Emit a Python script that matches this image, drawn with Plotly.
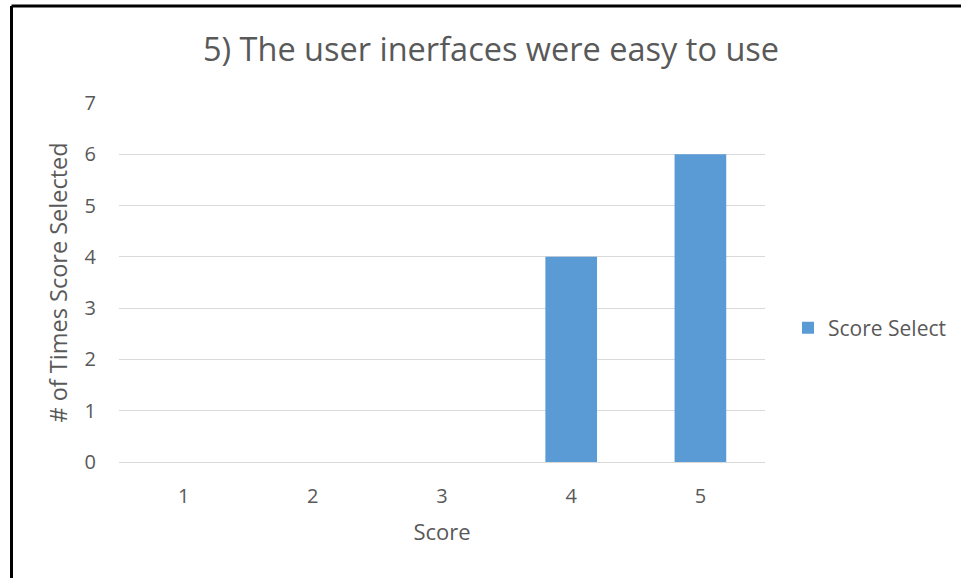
import plotly.graph_objects as go

categories = ["1", "2", "3", "4", "5"]
values = [0, 0, 0, 4, 6]
series_name = "Score Select"
title_text = "5) The user inerfaces were easy to use"
y_ticks = [0, 1, 2, 3, 4, 5, 6, 7]

W, H = 961, 578
L, R, T, B = 119, 196, 103, 116
pw, ph = W - L - R, H - T - B

FONT = "Open Sans, Liberation Sans, sans-serif"
TXT = "#595959"

fig = go.Figure()
fig.add_trace(go.Bar(x=categories, y=values, name=series_name,
                     marker=dict(color="#5B9BD5", line=dict(width=0)),
                     width=0.4))

fig.update_layout(
    width=W, height=H,
    margin=dict(l=L, r=R, t=T, b=B, autoexpand=False),
    paper_bgcolor="white", plot_bgcolor="white",
    font=dict(family=FONT, color=TXT, size=20),
    title=dict(text=title_text, x=491 / W, xanchor="center", xref="container",
               y=1 - 50 / H, yanchor="middle", yref="container",
               font=dict(size=32.5, color=TXT, family=FONT)),
    showlegend=True,
    legend=dict(x=(788 - L) / pw, y=(462 - 328) / ph, xanchor="left", yanchor="middle",
                font=dict(size=21, color=TXT), bgcolor="rgba(0,0,0,0)",
                itemwidth=30),
    xaxis=dict(type="category", showgrid=False, zeroline=False, showline=False,
               ticks="", ticklabelstandoff=20, tickfont=dict(size=20, color=TXT),
               title=dict(text="Score", font=dict(size=22, color=TXT), standoff=16)),
    yaxis=dict(range=[0, 7], tickvals=y_ticks, showgrid=True, gridcolor="#D9D9D9",
               gridwidth=1, zeroline=True, zerolinecolor="#D9D9D9", zerolinewidth=1,
               showline=False, ticks="", ticklabelstandoff=22,
               tickfont=dict(size=20, color=TXT),
               title=dict(text="# of Times Score Selected", font=dict(size=23.5, color=TXT),
                          standoff=10)),
)

# outer chart border (left and top edges visible)
lx = (11.5 - L) / pw
ty = (H - B - 6) / ph
fig.add_shape(type="line", xref="paper", yref="paper", x0=lx, x1=lx, y0=ty, y1=-1,
              line=dict(color="black", width=3))
fig.add_shape(type="line", xref="paper", yref="paper", x0=lx, x1=2, y0=ty, y1=ty,
              line=dict(color="black", width=3))

fig.write_html("out.html", config={"displayModeBar": False},
               post_script="document.body.style.margin='0px';")
